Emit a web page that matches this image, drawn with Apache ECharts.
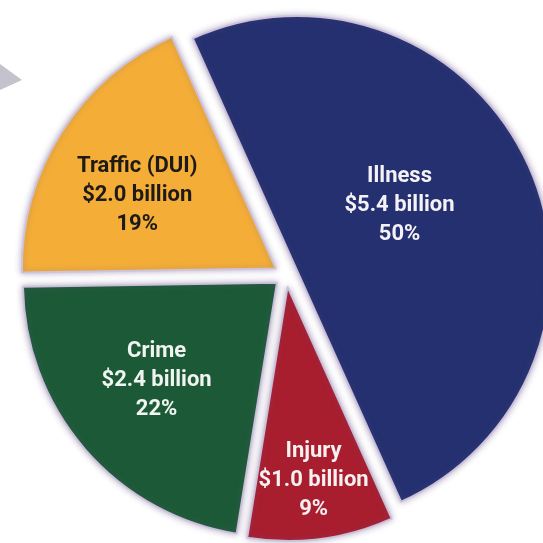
<!DOCTYPE html>
<html>
<head>
<meta charset="utf-8">
<script src="https://cdn.jsdelivr.net/npm/echarts@6/dist/echarts.min.js"></script>
<style>
  html, body { margin: 0; padding: 0; background: #ffffff; }
  #chart { width: 543px; height: 543px; }
</style>
</head>
<body>
<div id="chart"></div>
<script>
// Cost categories, clockwise from the upper edge of the largest slice
const categories = ['Illness', 'Injury', 'Crime', 'Traffic (DUI)'];
// Cost in billions of dollars
const costs = [5.4, 1.0, 2.4, 2.0];
const sliceColors = ['#24306f', '#a81e2e', '#1c5a37', '#f4ae37'];
const labelColors = ['#f4f2f6', '#f6f0f0', '#f2f4f2', '#1d1a18'];
// Extra label shift inside each slice [dx, dy]
const labelNudge = [[-16, -11], [9, 65], [-22, 13], [-29, -3]];

const chart = echarts.init(document.getElementById('chart'), null, { renderer: 'canvas' });

chart.setOption({
  backgroundColor: '#ffffff',
  animation: false,
  graphic: [{
    type: 'polygon',
    shape: { points: [[0, 64], [22, 80], [0, 90]] },
    style: { fill: '#c4c2cc' },
    silent: true
  }],
  series: [{
    type: 'pie',
    center: [286, 275],
    radius: 254,
    startAngle: 114.2,
    clockwise: true,
    selectedMode: 'multiple',
    selectedOffset: 12,
    avoidLabelOverlap: false,
    emphasis: { disabled: true },
    select: { itemStyle: { borderColor: 'rgba(205,195,220,0.95)', borderWidth: 2 } },
    itemStyle: {
      borderColor: 'rgba(205,195,220,0.95)',
      borderWidth: 2,
      shadowBlur: 6,
      shadowColor: 'rgba(110,90,140,0.45)'
    },
    label: {
      show: true,
      position: 'inside',
      fontFamily: 'Roboto',
      fontWeight: 'bold',
      fontSize: 22,
      lineHeight: 29,
      align: 'center',
      formatter: function (p) {
        return p.name + '\n$' + p.value.toFixed(1) + ' billion\n' + Math.round(p.percent) + '%';
      }
    },
    labelLine: { show: false },
    labelLayout: function (p) {
      const n = labelNudge[p.dataIndex];
      return { dx: n[0], dy: n[1] };
    },
    data: categories.map(function (name, i) {
      return {
        name: name,
        value: costs[i],
        selected: true,
        itemStyle: { color: sliceColors[i] },
        label: { color: labelColors[i] }
      };
    })
  }]
});
</script>
</body>
</html>
